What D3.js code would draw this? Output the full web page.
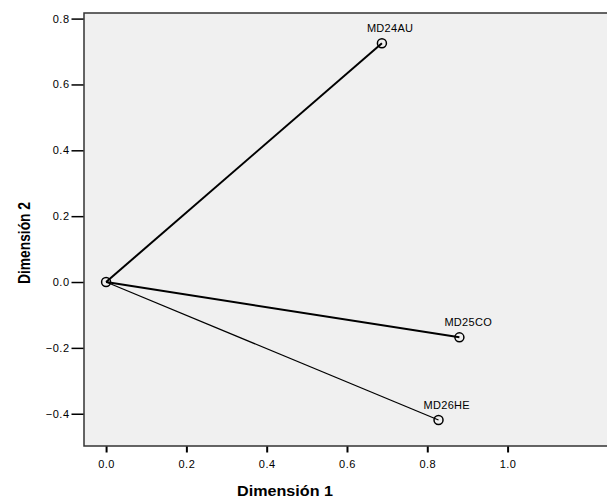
<!DOCTYPE html>
<html>
<meta charset="utf-8">
<head>
<script src="https://d3js.org/d3.v7.min.js"></script>
<title>dimensiones</title>
<style>
html, body {
	margin: 0;
	padding: 0;
	background: white;
}
svg {
	display: block;
	font-family: 'Liberation Sans', Arial, sans-serif;
}
</style>
</head>
<body>
<svg></svg>
<script>
var width = 607;
var height = 500;

// data
var labels = ["MD24AU", "MD25CO", "MD26HE"];
var dim1 = [0.687, 0.880, 0.828];
var dim2 = [0.725, -0.168, -0.419];
var lineWidths = [2, 2, 1.2];
var xTicks = [0.0, 0.2, 0.4, 0.6, 0.8, 1.0];
var yTicks = [-0.4, -0.2, 0.0, 0.2, 0.4, 0.6, 0.8];

var plot = {left: 84, top: 13, right: 620, bottom: 446};

var x = d3.scaleLinear().domain([-0.055, 1.28]).range([plot.left, plot.left + (1.28 + 0.055) * 401.5]);
var y = d3.scaleLinear().domain([-0.498, 0.817]).range([plot.bottom, plot.top]);

var svg = d3.select("svg")
	.attr("width", width)
	.attr("height", height);

// plot background
svg.append("rect")
	.attr("x", plot.left)
	.attr("y", plot.top)
	.attr("width", plot.right - plot.left)
	.attr("height", plot.bottom - plot.top)
	.style("fill", "#f0f0f0")
	.style("stroke", "#333")
	.style("stroke-width", 1.5);

// axes
var xAxis = d3.axisBottom(x).tickValues(xTicks).tickFormat(d3.format(".1f")).tickSize(6).tickSizeOuter(0);
var yAxis = d3.axisLeft(y).tickValues(yTicks).tickFormat(d3.format(".1f")).tickSize(12).tickSizeOuter(0);

var gx = svg.append("g")
	.attr("transform", "translate(0," + (plot.bottom + 0.5) + ")")
	.call(xAxis);
gx.select(".domain").remove();
gx.selectAll(".tick line").style("stroke", "#000").style("stroke-width", 2);
gx.selectAll(".tick text")
	.attr("y", 14)
	.style("font-size", "11px")
	.style("letter-spacing", "0.5px")
	.style("font-family", "'Liberation Sans', Arial, sans-serif")
	.style("fill", "#000");

var gy = svg.append("g")
	.attr("transform", "translate(" + (plot.left - 0.5) + ",0)")
	.call(yAxis);
gy.select(".domain").remove();
gy.selectAll(".tick line").style("stroke", "#000").style("stroke-width", 1.5);
gy.selectAll(".tick text")
	.attr("x", -14)
	.style("font-size", "11px")
	.style("letter-spacing", "0.5px")
	.style("font-family", "'Liberation Sans', Arial, sans-serif")
	.style("fill", "#000");

// axis titles
svg.append("text")
	.attr("x", 285)
	.attr("y", 496)
	.attr("text-anchor", "middle")
	.attr("textLength", 96)
	.attr("lengthAdjust", "spacingAndGlyphs")
	.style("font-size", "15px")
	.style("font-weight", "bold")
	.text("Dimensión 1");

svg.append("text")
	.attr("transform", "translate(30,243) rotate(-90)")
	.attr("text-anchor", "middle")
	.attr("textLength", 82)
	.attr("lengthAdjust", "spacingAndGlyphs")
	.style("font-size", "17px")
	.style("font-weight", "bold")
	.text("Dimensión 2");

// vectors
var pts = labels.map(function(l, i) {
	return {label: l, x: dim1[i], y: dim2[i], w: lineWidths[i]};
});

svg.append("g")
	.selectAll("line")
	.data(pts)
	.enter().append("line")
		.attr("x1", x(0))
		.attr("y1", y(0))
		.attr("x2", function(d) { return x(d.x); })
		.attr("y2", function(d) { return y(d.y); })
		.style("stroke", "#000")
		.style("stroke-width", function(d) { return d.w; });

// origin marker
svg.append("circle")
	.attr("cx", x(0))
	.attr("cy", y(0))
	.attr("r", 4.5)
	.style("fill", "none")
	.style("stroke", "#000")
	.style("stroke-width", 1.5);

svg.append("g")
	.selectAll("circle")
	.data(pts)
	.enter().append("circle")
		.attr("cx", function(d) { return x(d.x); })
		.attr("cy", function(d) { return y(d.y); })
		.attr("r", 4.5)
		.style("fill", "none")
		.style("stroke", "#000")
		.style("stroke-width", 1.5);

svg.append("g")
	.selectAll("text")
	.data(pts)
	.enter().append("text")
		.attr("x", function(d) { return x(d.x) - 15; })
		.attr("y", function(d) { return y(d.y) - 11; })
		.style("font-size", "11px")
		.style("letter-spacing", "0.3px")
		.style("fill", "#000")
		.text(function(d) { return d.label; });
</script>
</body>
</html>
